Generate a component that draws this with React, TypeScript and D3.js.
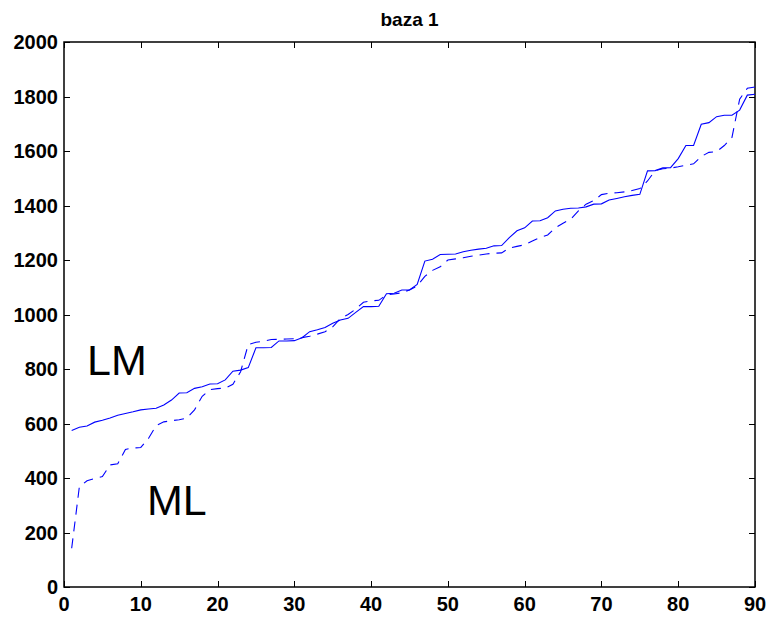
import React, { useEffect, useRef } from 'react';
import * as d3 from 'd3';

// values, one per sample index 1..90
const lmValues = [
  574, 586, 591, 605, 612, 620, 630, 637, 643, 650,
  653, 656, 668, 686, 712, 713, 729, 735, 745, 746,
  760, 792, 796, 805, 878, 878, 879, 903, 903, 904,
  915, 937, 944, 952, 968, 980, 986, 1008, 1029, 1029,
  1030, 1076, 1078, 1090, 1090, 1110, 1196, 1203, 1220, 1221,
  1222, 1230, 1236, 1240, 1243, 1252, 1253, 1282, 1307, 1318,
  1343, 1344, 1355, 1380, 1386, 1390, 1391, 1395, 1405, 1406,
  1420, 1426, 1432, 1437, 1441, 1527, 1528, 1538, 1539, 1572,
  1620, 1620, 1698, 1704, 1726, 1731, 1731, 1750, 1805, 1808,
];

const mlValues = [
  142, 368, 390, 398, 405, 448, 452, 505, 510, 512,
  545, 592, 606, 610, 614, 620, 650, 700, 724, 728,
  730, 744, 790, 890, 898, 902, 908, 909, 910, 911,
  915, 920, 928, 937, 955, 985, 1000, 1020, 1045, 1050,
  1052, 1072, 1075, 1080, 1090, 1105, 1140, 1162, 1175, 1200,
  1204, 1208, 1214, 1218, 1222, 1225, 1226, 1244, 1250, 1256,
  1270, 1283, 1292, 1318, 1335, 1350, 1380, 1405, 1418, 1440,
  1445, 1447, 1450, 1455, 1462, 1490, 1528, 1535, 1537, 1542,
  1548, 1553, 1580, 1595, 1598, 1620, 1650, 1790, 1830, 1835,
];

const xTicks = [0, 10, 20, 30, 40, 50, 60, 70, 80, 90];
const yTicks = [0, 200, 400, 600, 800, 1000, 1200, 1400, 1600, 1800, 2000];

const annotations = [
  { label: 'LM', x: 3, y: 778 },
  { label: 'ML', x: 10.8, y: 263 },
];

export default function App() {
  const ref = useRef<SVGSVGElement | null>(null);

  useEffect(() => {
    const svg = d3.select(ref.current);
    svg.selectAll('*').remove();

    const W = 771;
    const H = 617;
    const m = { left: 64, top: 42, right: 16, bottom: 30 };
    const iw = W - m.left - m.right;
    const ih = H - m.top - m.bottom;

    const x = d3.scaleLinear().domain([0, 90]).range([m.left, m.left + iw]);
    const y = d3.scaleLinear().domain([0, 2000]).range([m.top + ih, m.top]);

    const font = 'Liberation Sans, Arial, Helvetica, sans-serif';

    svg.append('rect').attr('width', W).attr('height', H).attr('fill', '#fff');

    // title
    svg
      .append('text')
      .attr('x', m.left + iw / 2)
      .attr('y', 26)
      .attr('text-anchor', 'middle')
      .attr('font-family', font)
      .attr('font-weight', 'bold')
      .attr('font-size', 19)
      .text('baza 1');

    const tickLen = 6;
    const axes = svg.append('g').attr('stroke', '#000').attr('stroke-width', 1);

    // inward ticks on all four sides
    xTicks.forEach((t) => {
      const px = Math.round(x(t)) + 0.5;
      axes.append('line').attr('x1', px).attr('x2', px).attr('y1', y(0)).attr('y2', y(0) - tickLen);
      axes.append('line').attr('x1', px).attr('x2', px).attr('y1', y(2000)).attr('y2', y(2000) + tickLen);
    });
    yTicks.forEach((t) => {
      const py = Math.round(y(t)) + 0.5;
      axes.append('line').attr('x1', x(0)).attr('x2', x(0) + tickLen).attr('y1', py).attr('y2', py);
      axes.append('line').attr('x1', x(90)).attr('x2', x(90) - tickLen).attr('y1', py).attr('y2', py);
    });

    axes
      .append('rect')
      .attr('x', x(0))
      .attr('y', y(2000))
      .attr('width', x(90) - x(0))
      .attr('height', y(0) - y(2000))
      .attr('fill', 'none')
      .attr('stroke-width', 1.5);

    // tick labels
    svg
      .append('g')
      .selectAll('text')
      .data(xTicks)
      .join('text')
      .attr('x', (d) => x(d))
      .attr('y', y(0) + 24)
      .attr('text-anchor', 'middle')
      .attr('font-family', font)
      .attr('font-weight', 'bold')
      .attr('font-size', 20)
      .text((d) => d);

    svg
      .append('g')
      .selectAll('text')
      .data(yTicks)
      .join('text')
      .attr('x', x(0) - 6)
      .attr('y', (d) => y(d) + 7)
      .attr('text-anchor', 'end')
      .attr('font-family', font)
      .attr('font-weight', 'bold')
      .attr('font-size', 20)
      .text((d) => d);

    const line = d3
      .line<number>()
      .x((_, i) => x(i + 1))
      .y((d) => y(d));

    svg
      .append('path')
      .datum(lmValues)
      .attr('d', line)
      .attr('fill', 'none')
      .attr('stroke', '#0000ff')
      .attr('stroke-width', 1.1);

    svg
      .append('path')
      .datum(mlValues)
      .attr('d', line)
      .attr('fill', 'none')
      .attr('stroke', '#0000ff')
      .attr('stroke-width', 1.1)
      .attr('stroke-dasharray', '10,7');

    svg
      .append('g')
      .selectAll('text')
      .data(annotations)
      .join('text')
      .attr('x', (d) => x(d.x))
      .attr('y', (d) => y(d.y))
      .attr('font-family', font)
      .attr('font-size', 43)
      .text((d) => d.label);
  }, []);

  return (
    <svg
      ref={ref}
      width={771}
      height={617}
      style={{ position: 'absolute', left: 0, top: 0, display: 'block' }}
    />
  );
}
